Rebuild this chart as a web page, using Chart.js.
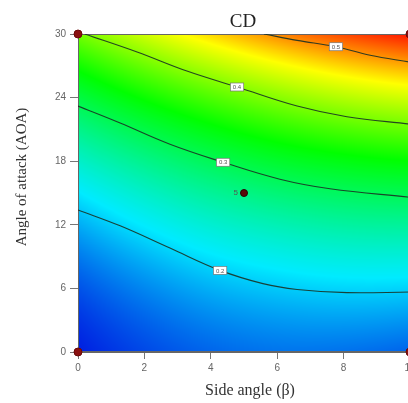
<!DOCTYPE html>
<html><head><meta charset="utf-8">
<script src="https://cdn.jsdelivr.net/npm/chart.js@4.4.0/dist/chart.umd.min.js"></script>
<style>html,body{margin:0;padding:0;overflow:hidden;background:#fff}canvas{display:block}</style>
</head><body>
<canvas id="c" width="420" height="403"></canvas>
<script>
// ---- data ----
const betaGrid = [0, 2, 4, 6, 8, 10];          // Side angle (β)
const aoaGrid  = [0, 6, 12, 18, 24, 30];       // Angle of attack (AOA)
// CD response values on the grid, one array per AOA row
const cdAoa0  = [0.131, 0.148, 0.160, 0.166, 0.165, 0.159];
const cdAoa6  = [0.152, 0.174, 0.191, 0.201, 0.206, 0.205];
const cdAoa12 = [0.189, 0.216, 0.238, 0.253, 0.263, 0.267];
const cdAoa18 = [0.242, 0.274, 0.301, 0.322, 0.336, 0.345];
const cdAoa24 = [0.311, 0.349, 0.380, 0.406, 0.426, 0.440];
const cdAoa30 = [0.397, 0.439, 0.476, 0.507, 0.532, 0.551];
const cdRows = [cdAoa0, cdAoa6, cdAoa12, cdAoa18, cdAoa24, cdAoa30];

// contour lines (β, AOA)
const c02Beta = [0, 1.27, 2.77, 4.28, 5.57, 6.6, 8.1, 10];
const c02Aoa  = [13.4, 11.9, 9.8, 7.7, 6.45, 5.9, 5.6, 5.66];
const c03Beta = [0, 1.27, 2.77, 4.37, 6.08, 7.59, 10];
const c03Aoa  = [23.2, 21.6, 19.6, 17.9, 16.3, 15.4, 14.6];
const c04Beta = [0.2, 1.78, 3.28, 4.79, 6.6, 8.1, 10];
const c04Aoa  = [30, 28.3, 26.5, 25.0, 23.2, 22.2, 21.5];
const c05Beta = [5.6, 6.6, 7.77, 8.8, 10];
const c05Aoa  = [30, 29.4, 28.8, 28.0, 27.35];
const contourLevels = ['0.2', '0.3', '0.4', '0.5'];
const labelBeta = [4.28, 4.37, 4.79, 7.77];
const labelAoa  = [7.7, 17.9, 25.0, 28.8];

// design points
const designBeta = [0, 0, 10, 10];
const designAoa  = [0, 30, 0, 30];
const centerBeta = [5];
const centerAoa  = [15];
const centerReps = ['5'];

// colour map (value -> colour)
const stopVals = [0.131, 0.215, 0.345, 0.46, 0.55];
const stopCols = [[0,30,225],[0,235,255],[0,255,0],[255,255,0],[255,25,0]];

const pts = (xs, ys) => xs.map((v, i) => ({x: v, y: ys[i]}));

function cubic(vals, t) {
  const n = vals.length;
  const get = k => {
    if (k < 0) return 3*vals[0] - 3*vals[1] + vals[2];
    if (k > n-1) return 3*vals[n-1] - 3*vals[n-2] + vals[n-3];
    return vals[k];
  };
  let i = Math.floor(t);
  if (i < 0) i = 0; if (i > n-2) i = n-2;
  const f = t - i;
  const p0 = get(i-1), p1 = get(i), p2 = get(i+1), p3 = get(i+2);
  return 0.5*((2*p1) + (-p0+p2)*f + (2*p0-5*p1+4*p2-p3)*f*f + (-p0+3*p1-3*p2+p3)*f*f*f);
}
function colorFor(v) {
  if (v <= stopVals[0]) return stopCols[0];
  for (let k = 1; k < stopVals.length; k++) {
    if (v <= stopVals[k]) {
      const t = (v - stopVals[k-1]) / (stopVals[k] - stopVals[k-1]);
      const a = stopCols[k-1], b = stopCols[k];
      return [a[0]+(b[0]-a[0])*t, a[1]+(b[1]-a[1])*t, a[2]+(b[2]-a[2])*t];
    }
  }
  return stopCols[stopCols.length-1];
}

const heatPlugin = {
  id: 'heat',
  beforeDatasetsDraw(chart) {
    const {ctx, chartArea: a, scales: {x, y}} = chart;
    const L = Math.round(a.left), T = Math.round(a.top);
    const w = Math.round(a.right) - L, h = Math.round(a.bottom) - T;
    const img = ctx.createImageData(w, h);
    const stepB = betaGrid[1] - betaGrid[0], stepA = aoaGrid[1] - aoaGrid[0];
    for (let i = 0; i < w; i++) {
      const b = x.getValueForPixel(L + i + 0.5);
      const tb = (b - betaGrid[0]) / stepB;
      const col = cdRows.map(r => cubic(r, tb));
      for (let j = 0; j < h; j++) {
        const av = y.getValueForPixel(T + j + 0.5);
        const val = cubic(col, (av - aoaGrid[0]) / stepA);
        const c = colorFor(val);
        const o = (j*w + i)*4;
        img.data[o] = c[0]; img.data[o+1] = c[1]; img.data[o+2] = c[2]; img.data[o+3] = 255;
      }
    }
    ctx.putImageData(img, L, T);
    ctx.save();
    ctx.strokeStyle = '#666'; ctx.lineWidth = 1;
    ctx.strokeRect(L + 0.5, T + 0.5, w - 1, h - 1);
    ctx.restore();
  },
  afterDatasetsDraw(chart) {
    const {ctx, scales: {x, y}} = chart;
    ctx.save();
    ctx.font = '6px "Liberation Sans"';
    ctx.textAlign = 'center'; ctx.textBaseline = 'middle';
    contourLevels.forEach((lv, i) => {
      const px = x.getPixelForValue(labelBeta[i]), py = y.getPixelForValue(labelAoa[i]);
      const tw = ctx.measureText(lv).width + 5, th = 8;
      ctx.fillStyle = '#fff';
      ctx.fillRect(px - tw/2, py - th/2, tw, th);
      ctx.strokeStyle = '#777'; ctx.lineWidth = 0.7;
      ctx.strokeRect(px - tw/2, py - th/2, tw, th);
      ctx.fillStyle = '#555';
      ctx.fillText(lv, px, py + 0.5);
    });
    ctx.font = '8px "Liberation Sans"';
    ctx.fillStyle = '#555'; ctx.textAlign = 'right';
    centerReps.forEach((r, i) => {
      ctx.fillText(r, x.getPixelForValue(centerBeta[i]) - 6, y.getPixelForValue(centerAoa[i]));
    });
    ctx.restore();
  },
  afterDraw(chart) {
    const {ctx} = chart;
    ctx.save();
    ctx.fillStyle = '#222';
    ctx.textAlign = 'center'; ctx.textBaseline = 'alphabetic';
    ctx.font = '19px "Liberation Serif"';
    ctx.fillText('CD', 243, 27);
    ctx.font = '16px "Liberation Serif"';
    ctx.fillStyle = '#333';
    ctx.fillText('Side angle (β)', 250, 395);
    ctx.translate(26, 177);
    ctx.rotate(-Math.PI/2);
    ctx.font = '15px "Liberation Serif"';
    ctx.fillText('Angle of attack (AOA)', 0, 0);
    ctx.restore();
  }
};

const lineDs = (xs, ys) => ({
  data: pts(xs, ys), showLine: true, pointRadius: 0, borderColor: 'rgba(25,50,35,0.9)',
  borderWidth: 1.1, tension: 0.4, fill: false
});

new Chart(document.getElementById('c'), {
  type: 'scatter',
  data: {
    datasets: [
      lineDs(c02Beta, c02Aoa),
      lineDs(c03Beta, c03Aoa),
      lineDs(c04Beta, c04Aoa),
      lineDs(c05Beta, c05Aoa),
      { data: pts(designBeta, designAoa), pointRadius: 4, pointBackgroundColor: '#8a1010',
        pointBorderColor: '#6a0808', pointBorderWidth: 1, clip: false },
      { data: pts(centerBeta, centerAoa), pointRadius: 3.5, pointBackgroundColor: '#5a0a0a',
        pointBorderColor: '#2a0404', pointBorderWidth: 1, clip: false }
    ]
  },
  options: {
    responsive: false, animation: false, devicePixelRatio: 1,
    layout: { padding: { top: 34, right: 10, left: 0, bottom: 0 } },
    plugins: { legend: { display: false }, tooltip: { enabled: false } },
    scales: {
      x: {
        type: 'linear', min: 0, max: 10,
        ticks: { stepSize: 2, color: '#666', font: { family: 'Liberation Sans', size: 10 }, padding: 3 },
        grid: { drawOnChartArea: false, tickLength: 7, color: '#777' },
        border: { color: '#666' },
        afterFit(s) { s.height = 51; }
      },
      y: {
        type: 'linear', min: 0, max: 30,
        ticks: { stepSize: 6, color: '#666', font: { family: 'Liberation Sans', size: 10 }, padding: 4 },
        grid: { drawOnChartArea: false, tickLength: 8, color: '#777' },
        border: { color: '#666' },
        afterFit(s) { s.width = 78; }
      }
    }
  },
  plugins: [heatPlugin]
});
</script>
</body></html>
